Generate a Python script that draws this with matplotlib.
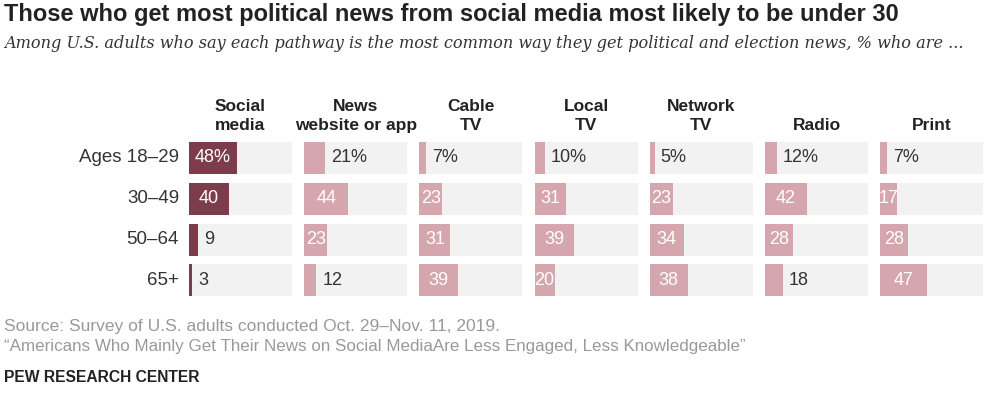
import matplotlib
matplotlib.use("Agg")
import matplotlib.pyplot as plt

# Data
ages = ["Ages 18\u201329", "30\u201349", "50\u201364", "65+"]
pathways = ["Social\nmedia", "News\nwebsite or app", "Cable\nTV", "Local\nTV",
            "Network\nTV", "Radio", "Print"]
social_media = [48, 40, 9, 3]
news_website = [21, 44, 23, 12]
cable_tv = [7, 23, 31, 39]
local_tv = [10, 31, 39, 20]
network_tv = [5, 23, 34, 38]
radio = [12, 42, 28, 18]
print_ = [7, 17, 28, 47]
series = [social_media, news_website, cable_tv, local_tv, network_tv, radio, print_]

W, H = 990, 393
DARK = "#7d3c4c"
PINK = "#d5a6ad"
BG = "#f2f2f2"
TXT = "#333333"

sans = ["Liberation Sans", "DejaVu Sans"]


def fx(x):
    return x / W


def fy(y):
    return 1 - y / H


fig = plt.figure(figsize=(W / 100, H / 100), dpi=100)
fig.patch.set_facecolor("white")

# panel layout in pixels (about 1 px per percentage point)
first_left, gap, panel_w = 189, 115.2, 103
row0, step, bar_h = 158, 40.8, 32

top = row0 - step / 2
bottom = row0 + step * 3.5
for j, (vals, name) in enumerate(zip(series, pathways)):
    left = first_left + gap * j
    ax = fig.add_axes([fx(left), fy(bottom), fx(panel_w), (bottom - top) / H])
    ax.set_xlim(0, panel_w)
    ax.set_ylim(3.5, -0.5)
    ax.axis("off")
    color = DARK if j == 0 else PINK
    ypos = range(len(ages))
    ax.barh(ypos, [panel_w] * len(ages), height=bar_h / step, color=BG, linewidth=0)
    ax.barh(ypos, vals, height=bar_h / step, color=color, linewidth=0)
    for i, v in enumerate(vals):
        label = f"{v}%" if i == 0 else f"{v}"
        inside = v >= 17 and not (i == 0 and j > 0) and not (name == "Radio" and i == 3)
        if inside:
            ax.text(v / 2, i, label, ha="center", va="center", color="white",
                    fontsize=13, family=sans)
        else:
            ax.annotate(label, (v, i), xytext=(6, 0), textcoords="offset pixels",
                        ha="left", va="center", color=TXT, fontsize=13, family=sans)
    fig.text(fx(left + panel_w / 2), fy(133), name, ha="center", va="bottom",
             fontsize=12.5, fontweight="bold", family=sans, color="#222222",
             linespacing=1.35)

for i, a in enumerate(ages):
    fig.text(fx(179), fy(row0 + step * i), a, ha="right", va="center",
             fontsize=13.5, family=sans, color=TXT)

# titles and notes
renderer = fig.canvas.get_renderer()


def fit(t, target):
    w = t.get_window_extent(renderer).width
    t.set_fontsize(t.get_fontsize() * target / w)


t = fig.text(fx(4), fy(14), "Those who get most political news from social media most likely to be under 30",
             ha="left", va="center", fontsize=15.5, fontweight="bold", family=sans, color="#222222")
fit(t, 893)
t = fig.text(fx(4), fy(44), "Among U.S. adults who say each pathway is the most common way they get political and election news, % who are ...",
             ha="left", va="center", fontsize=12.5, style="italic", family=["DejaVu Serif"], color="#333333")
fit(t, 960)
t = fig.text(fx(4), fy(327), "Source: Survey of U.S. adults conducted Oct. 29\u2013Nov. 11, 2019.",
             ha="left", va="center", fontsize=11.5, family=sans, color="#999999")
fit(t, 496)
t = fig.text(fx(4), fy(347), "\u201cAmericans Who Mainly Get Their News on Social MediaAre Less Engaged, Less Knowledgeable\u201d",
             ha="left", va="center", fontsize=11.5, family=sans, color="#999999")
fit(t, 739)
t = fig.text(fx(4), fy(378), "PEW RESEARCH CENTER", ha="left", va="center", fontsize=11.5,
             fontweight="bold", family=sans, color="#222222")
fit(t, 197)

fig.savefig("out.png", dpi=100)
